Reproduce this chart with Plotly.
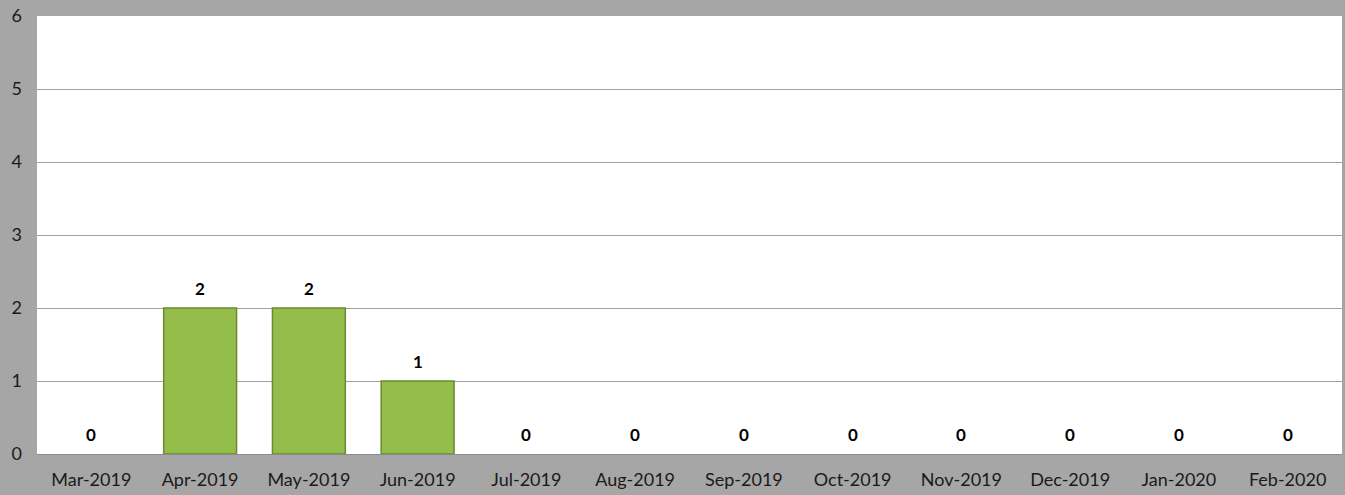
import plotly.graph_objects as go

months = ["Mar-2019", "Apr-2019", "May-2019", "Jun-2019", "Jul-2019", "Aug-2019",
          "Sep-2019", "Oct-2019", "Nov-2019", "Dec-2019", "Jan-2020", "Feb-2020"]
counts = [0, 2, 2, 1, 0, 0, 0, 0, 0, 0, 0, 0]
y_ticks = [0, 1, 2, 3, 4, 5, 6]

FONT = "Lato"

fig = go.Figure()
fig.add_trace(go.Bar(
    x=months, y=counts,
    marker=dict(color="#94bd4b",
                line=dict(color="#6a8a30", width=[0 if v == 0 else 1.5 for v in counts])),
    width=0.67, hoverinfo="x+y", showlegend=False,
))

for m, v in zip(months, counts):
    fig.add_annotation(x=m, y=v, text=str(v), showarrow=False, yshift=20,
                       font=dict(family=FONT, size=17, color="#000000", weight="bold"))

fig.update_layout(
    width=1345, height=495,
    margin=dict(l=37, r=3, t=16, b=41, autoexpand=False),
    paper_bgcolor="#a6a6a6",
    plot_bgcolor="#ffffff",
    font=dict(family=FONT, size=17, color="#000000"),
    xaxis=dict(showgrid=False, ticks="", automargin=False, ticklabelstandoff=9,
               tickfont=dict(size=18, color="#1a1a1a"),
               showline=True, linecolor="#8c8c8c", linewidth=1),
    yaxis=dict(range=[0, 6], tickvals=y_ticks, showgrid=True, gridcolor="#a0a0a0",
               gridwidth=1, zeroline=False, ticks="", ticklabelstandoff=14, automargin=False,
               tickfont=dict(size=18, color="#1a1a1a")),
)

fig.write_html("out.html", config={"displayModeBar": False},
               post_script="document.body.style.margin='0';document.body.style.overflow='hidden';")
